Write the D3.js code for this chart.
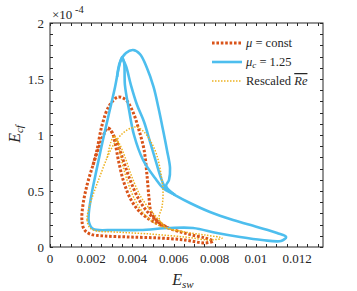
<!DOCTYPE html>
<html>
<head>
<meta charset="utf-8">
<script src="https://cdn.jsdelivr.net/npm/d3@7"></script>
<style>
  body { margin: 0; background: #fff; }
</style>
</head>
<body>
<svg id="chart" width="357" height="291" style="font-family: 'Liberation Serif', 'Times New Roman', serif;"></svg>
<script>
// E_sw (x) and E_cf (y, in units of 1e-4)
const xTicks = [0, 0.002, 0.004, 0.006, 0.008, 0.01, 0.012];
const xTickLabels = ["0", "0.002", "0.004", "0.006", "0.008", "0.01", "0.012"];
const yTicks = [0, 0.5, 1, 1.5, 2];
const yTickLabels = ["0", "0.5", "1", "1.5", "2"];

// mu = const : closed loop + two branches
const redLoop = [
  [0.00165, 0.161], [0.00155, 0.241], [0.0016, 0.375], [0.0018, 0.554], [0.00209, 0.732],
  [0.00238, 0.893], [0.00262, 1.009], [0.00282, 1.0625], [0.00301, 1.027], [0.00316, 0.929],
  [0.00335, 0.75], [0.0036, 0.571], [0.00394, 0.42], [0.00437, 0.3125], [0.00496, 0.232],
  [0.00573, 0.17], [0.0067, 0.116], [0.00753, 0.08], [0.00792, 0.054], [0.00753, 0.036],
  [0.00656, 0.0625], [0.00534, 0.08], [0.00389, 0.089], [0.00267, 0.098], [0.00194, 0.116]
];
const redLobeA = [
  [0.00209, 0.732], [0.00228, 0.866], [0.00253, 1.089], [0.00287, 1.259], [0.0033, 1.339],
  [0.00369, 1.3125], [0.00403, 1.205], [0.00432, 1.045], [0.00457, 0.866], [0.00471, 0.643],
  [0.00481, 0.4375], [0.00491, 0.3125], [0.00525, 0.223], [0.00573, 0.17]
];
const redLobeB = [
  [0.00282, 1.0625], [0.00292, 1.045], [0.00321, 0.955], [0.00355, 0.777], [0.00389, 0.598],
  [0.00428, 0.4375], [0.00466, 0.33], [0.00515, 0.241], [0.00573, 0.17]
];

// mu_c = 1.25
const blueLoop = [
  [0.00209, 0.161], [0.00189, 0.223], [0.00189, 0.3125], [0.00204, 0.491], [0.00228, 0.705],
  [0.00257, 0.955], [0.00287, 1.196], [0.00316, 1.429], [0.00335, 1.607], [0.0035, 1.696],
  [0.0036, 1.643], [0.00364, 1.446], [0.00384, 1.223], [0.00408, 1.0], [0.00452, 0.777],
  [0.0051, 0.616], [0.00549, 0.527], [0.00607, 0.464], [0.0068, 0.393], [0.00777, 0.3125],
  [0.00889, 0.241], [0.01006, 0.179], [0.01103, 0.125], [0.01147, 0.089], [0.01122, 0.054],
  [0.0103, 0.0625], [0.00923, 0.089], [0.00811, 0.125], [0.00695, 0.17], [0.00583, 0.17],
  [0.00437, 0.152], [0.00316, 0.152]
];
const bluePeak = [
  [0.00326, 1.518], [0.0034, 1.652], [0.00369, 1.732], [0.00403, 1.759], [0.00437, 1.723],
  [0.00471, 1.598], [0.00503, 1.429], [0.00527, 1.241], [0.00549, 1.045], [0.00568, 0.866],
  [0.00583, 0.705], [0.00578, 0.598], [0.00564, 0.545], [0.00607, 0.464]
];
const blueInner = [
  [0.0035, 1.6875], [0.00369, 1.616], [0.00393, 1.446], [0.00423, 1.268], [0.00457, 1.116],
  [0.00486, 0.9375], [0.00515, 0.759], [0.00539, 0.616], [0.00559, 0.536], [0.00607, 0.464]
];

// Rescaled Re
const yellowLoop = [
  [0.00194, 0.17], [0.0018, 0.241], [0.00189, 0.348], [0.00214, 0.491], [0.00243, 0.634],
  [0.00277, 0.795], [0.00311, 0.92], [0.00355, 1.018], [0.00394, 1.0625], [0.00423, 1.071],
  [0.00457, 1.027], [0.00491, 0.9375], [0.0052, 0.8125], [0.00539, 0.652], [0.00549, 0.491],
  [0.00544, 0.357], [0.0053, 0.259], [0.00559, 0.179], [0.00656, 0.134], [0.00753, 0.107],
  [0.00836, 0.08], [0.00777, 0.0625], [0.00656, 0.089], [0.00486, 0.116], [0.00316, 0.134],
  [0.00228, 0.143]
];
const yellowLobe = [
  [0.00277, 0.795], [0.00296, 0.9375], [0.00311, 0.991], [0.00326, 0.955], [0.00345, 0.795],
  [0.00374, 0.598], [0.00413, 0.42], [0.00462, 0.286], [0.00534, 0.1875], [0.00656, 0.134]
];
const yellowInner = [
  [0.00311, 0.991], [0.00335, 0.929], [0.00364, 0.804], [0.00398, 0.625], [0.00442, 0.446],
  [0.00496, 0.3125], [0.00559, 0.179]
];

const series = [
  { name: "red", label: "const", color: "#D95319", width: 3, dash: "2.6,1.8", closed: [redLoop], open: [redLobeA, redLobeB] },
  { name: "blue", label: "1.25", color: "#4DBEEE", width: 2.6, dash: null, closed: [blueLoop], open: [bluePeak, blueInner] },
  { name: "yellow", label: "Rescaled", color: "#EDB120", width: 1.5, dash: "1.5,1.5", closed: [yellowLoop], open: [yellowLobe, yellowInner] }
];

const svg = d3.select("#chart");
const margin = { left: 50, top: 23, right: 34, bottom: 44 };
const W = 357, H = 291;
const x = d3.scaleLinear().domain([0, 0.01326]).range([margin.left, W - margin.right]);
const y = d3.scaleLinear().domain([0, 2]).range([H - margin.bottom, margin.top]);

const plot = svg.append("g");
const line = d3.line().x(d => x(d[0])).y(d => y(d[1]));

series.forEach(s => {
  s.closed.forEach(pts => {
    plot.append("path").datum(pts)
      .attr("d", line.curve(d3.curveCatmullRomClosed.alpha(0.5)))
      .attr("fill", "none").attr("stroke", s.color).attr("stroke-width", s.width)
      .attr("stroke-dasharray", s.dash).attr("stroke-linejoin", "round");
  });
  s.open.forEach(pts => {
    plot.append("path").datum(pts)
      .attr("d", line.curve(d3.curveCatmullRom.alpha(0.5)))
      .attr("fill", "none").attr("stroke", s.color).attr("stroke-width", s.width)
      .attr("stroke-dasharray", s.dash).attr("stroke-linejoin", "round");
  });
});

// axes box + ticks (inward, on all four sides)
const axisColor = "#262626";
const x0 = x.range()[0], x1 = x.range()[1], y0 = y.range()[0], y1 = y.range()[1];
const ax = svg.append("g").attr("stroke", axisColor).attr("stroke-width", 1);
ax.append("rect").attr("x", x0).attr("y", y1).attr("width", x1 - x0).attr("height", y0 - y1)
  .attr("fill", "none");

const xMinor = d3.range(0, 0.01326, 0.0005);
const yMinor = d3.range(0, 2.001, 0.1);
xMinor.forEach(v => {
  const px = Math.round(x(v)) + 0.5;
  ax.append("line").attr("x1", px).attr("x2", px).attr("y1", y0).attr("y2", y0 - 3);
  ax.append("line").attr("x1", px).attr("x2", px).attr("y1", y1).attr("y2", y1 + 3);
});
yMinor.forEach(v => {
  const py = Math.round(y(v)) + 0.5;
  ax.append("line").attr("x1", x0).attr("x2", x0 + 3).attr("y1", py).attr("y2", py);
  ax.append("line").attr("x1", x1).attr("x2", x1 - 3).attr("y1", py).attr("y2", py);
});

const txt = (sel) => sel.attr("font-family", "'Liberation Serif', 'Times New Roman', serif").attr("fill", axisColor);

xTicks.forEach((v, i) => {
  svg.append("text").call(txt).attr("x", x(v)).attr("y", y0 + 16)
    .attr("text-anchor", "middle").attr("font-size", 13).text(xTickLabels[i]);
});
yTicks.forEach((v, i) => {
  svg.append("text").call(txt).attr("x", x0 - 6).attr("y", y(v) + 4.5)
    .attr("text-anchor", "end").attr("font-size", 13).text(yTickLabels[i]);
});

// exponent label
const exp = svg.append("text").call(txt).attr("x", 52).attr("y", 19).attr("font-size", 13);
exp.append("tspan").text("\u00d710");
exp.append("tspan").attr("dy", -6).attr("font-size", 10.5).text(" -4");

// axis titles
const xl = svg.append("text").call(txt).attr("x", 183).attr("y", 285).attr("text-anchor", "middle")
  .attr("font-size", 16).attr("font-style", "italic");
xl.append("tspan").text("E");
xl.append("tspan").attr("dy", 3).attr("font-size", 11).text("sw");

const yl = svg.append("text").call(txt).attr("transform", "translate(20,134) rotate(-90)")
  .attr("text-anchor", "middle").attr("font-size", 16).attr("font-style", "italic");
yl.append("tspan").text("E");
yl.append("tspan").attr("dy", 3).attr("font-size", 11).text("cf");

// legend
const legendRows = [43, 62, 81];
series.forEach((s, i) => {
  const ly = legendRows[i];
  svg.append("line").attr("x1", 212).attr("x2", 242).attr("y1", ly).attr("y2", ly)
    .attr("stroke", s.color).attr("stroke-width", s.width).attr("stroke-dasharray", s.dash);
  const t = svg.append("text").call(txt).attr("x", 246).attr("y", ly + 4).attr("font-size", 12.5);
  if (s.name === "red") {
    t.append("tspan").attr("font-style", "italic").text("\u03bc");
    t.append("tspan").text(" = " + s.label);
  } else if (s.name === "blue") {
    t.append("tspan").attr("font-style", "italic").text("\u03bc");
    t.append("tspan").attr("font-style", "italic").attr("font-size", 9).attr("dy", 2).text("c");
    t.append("tspan").attr("dy", -2).text(" = " + s.label);
  } else {
    t.append("tspan").text(s.label + " ");
    t.append("tspan").attr("font-style", "italic").attr("text-decoration", "overline").text("Re");
  }
});
</script>
</body>
</html>
